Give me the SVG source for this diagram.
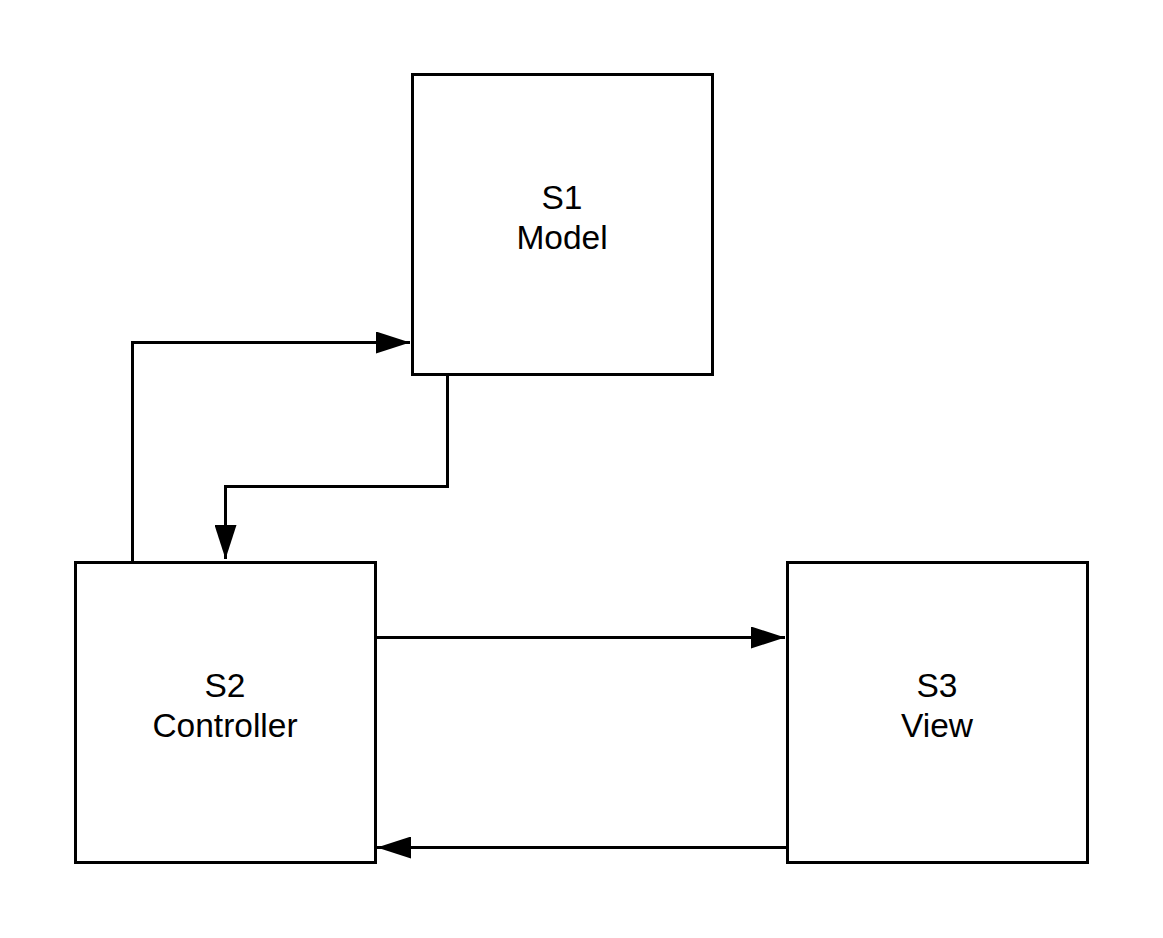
<svg xmlns="http://www.w3.org/2000/svg" width="1163" height="938" viewBox="0 0 1163 938">
<style>
.box{fill:#fff;stroke:#000;stroke-width:3}
.lbl{font-family:"Liberation Sans",Arial,sans-serif;font-size:33.5px;fill:#000;text-anchor:middle}
.conn{fill:none;stroke:#000;stroke-width:3}
</style>
<defs>
<marker id="arr" viewBox="0 0 34 22" refX="34" refY="11" markerWidth="34" markerHeight="22" markerUnits="userSpaceOnUse" orient="auto">
<path d="M0,0 L34,11 L0,22 Z" fill="#000"/>
</marker>
</defs>
<rect width="1163" height="938" fill="#fff"/>
<g id="s1">
<rect class="box" x="412.5" y="74.5" width="300" height="300"/>
<text class="lbl" x="562" y="209">S1</text>
<text class="lbl" x="562" y="249">Model</text>
</g>
<g id="s2">
<rect class="box" x="75.5" y="562.5" width="300" height="300"/>
<text class="lbl" x="225" y="697">S2</text>
<text class="lbl" x="225" y="737">Controller</text>
</g>
<g id="s3">
<rect class="box" x="787.5" y="562.5" width="300" height="300"/>
<text class="lbl" x="937" y="697">S3</text>
<text class="lbl" x="937" y="737">View</text>
</g>
<g id="connectors">
<path class="conn" d="M132.5,561 V342.5 H410" marker-end="url(#arr)"/>
<path class="conn" d="M447.5,376 V486.5 H225.5 V559" marker-end="url(#arr)"/>
<path class="conn" d="M377,637.5 H785" marker-end="url(#arr)"/>
<path class="conn" d="M786,847.5 H377" marker-end="url(#arr)"/>
</g>
</svg>
